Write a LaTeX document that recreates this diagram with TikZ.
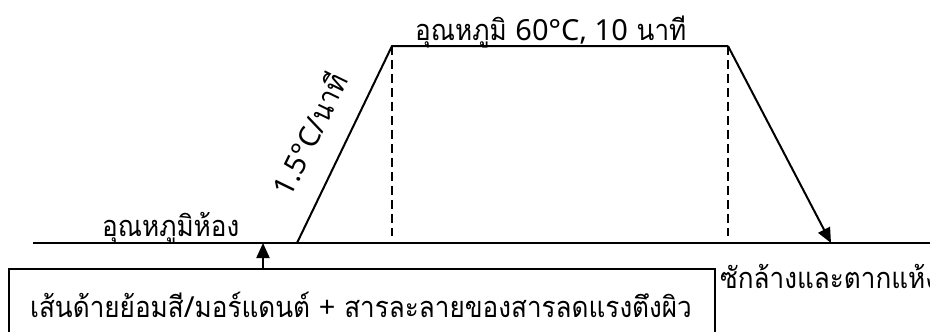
\documentclass[tikz,border=0pt]{standalone}
\usepackage{fontspec}
\setmainfont[Script=Thai, FakeStretch=0.9]{Loma}
\newfontfamily\latf{Noto Sans}
\usetikzlibrary{arrows.meta}
\newcommand{\lt}[1]{{\latf #1}}
\tikzset{
  ln/.style={line width=2pt},
  dsh/.style={line width=1.5pt, dash pattern=on 9pt off 5pt},
  arr/.style={line width=2pt, -{Triangle[width=13pt,length=15pt]}},
  lbl/.style={inner sep=0pt, font=\fontsize{29}{33}\selectfont},
  boxst/.style={draw, line width=2pt, inner sep=0pt, anchor=north west, minimum width=706pt, minimum height=80pt}
}
\begin{document}
\begin{tikzpicture}[x=1pt,y=-1pt]
\useasboundingbox (0,0) rectangle (930,332);
\begin{scope}
\clip (0,0) rectangle (930,332);
\coordinate (b0) at (33,243);
\coordinate (rs) at (297,243);
\coordinate (rt) at (392,46);
\coordinate (ft) at (728,46);
\coordinate (fe) at (831,243);
\coordinate (bend) at (940,243);
\coordinate (d1) at (392,236);
\coordinate (d2) at (728,236);
\coordinate (a1) at (263,243);
\draw[ln] (b0) -- (bend);
\draw[ln, line join=miter] (rs) -- (rt) -- (ft);
\draw[arr] (ft) -- (fe);
\draw[dsh] (rt) -- (d1);
\draw[dsh] (ft) -- (d2);
\node[boxst] (box) at (8,268) {};
\node[lbl, anchor=base] (boxt) at (361,317) {เส้นด้ายย้อมสี\lt{/}มอร์แดนต์ \lt{+} สารละลายของสารลดแรงตึงผิว};
\draw[arr] (box.north -| a1) -- (a1);
\node[lbl, anchor=base west] (room) at (102,236) {อุณหภูมิห้อง};
\node[lbl, anchor=base west] (hold) at (415,40) {อุณหภูมิ \lt{60°C, 10} นาที};
\node[lbl, rotate=64] (rate) at (309,134) {\lt{1.5°C/}นาที};
\node[lbl, anchor=base west] (wash) at (720,288) {ซักล้างและตากแห้ง};
\end{scope}
\end{tikzpicture}
\end{document}
